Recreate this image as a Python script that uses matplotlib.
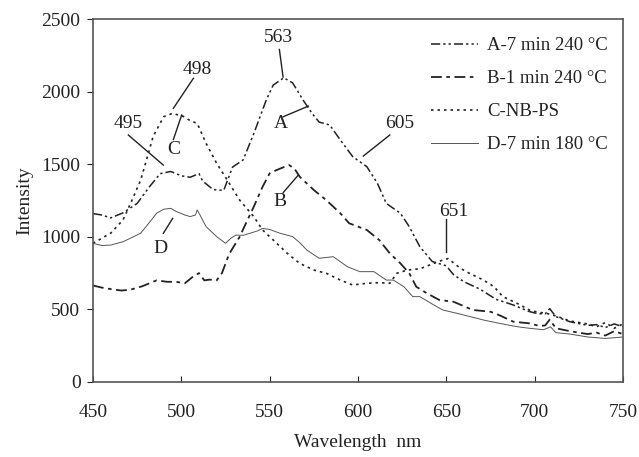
import numpy as np
import matplotlib
matplotlib.use("Agg")
import matplotlib.pyplot as plt

plt.rcParams['font.family'] = ['Liberation Serif', 'DejaVu Serif']

# curve A: 7 min 240 C
wl_a = [450, 455, 460, 467, 475, 482, 488, 494, 500, 505, 510, 512, 518, 524, 529,
        535, 541, 548, 552, 558, 563, 569, 574, 578, 584, 590, 597, 605, 611, 616,
        624, 629, 635, 642, 650, 654, 660, 669, 678, 688, 697, 702, 706, 708.5, 712,
        720, 730, 735, 740, 745, 750]
int_a = [1160, 1150, 1130, 1165, 1230, 1345, 1435, 1450, 1420, 1410, 1435, 1385, 1325, 1320, 1480,
         1530, 1710, 1940, 2045, 2095, 2060, 1940, 1850, 1790, 1770, 1667, 1552, 1483, 1368, 1230,
         1162, 1070, 932, 830, 800, 740, 690, 640, 570, 530, 485, 470, 470, 505, 450,
         415, 390, 395, 375, 400, 380]

# curve B: 1 min 240 C
wl_b = [450, 455, 460, 466, 471, 478, 486, 492, 497, 502, 506, 510, 513, 516, 520,
        523, 527, 533, 538, 541, 546, 550, 554, 558, 561, 564, 567, 575, 582, 590,
        595, 605, 612, 618, 624, 629, 633, 639, 646, 654, 665, 675, 680, 688, 697,
        703, 706, 708.5, 712, 720, 730, 735, 740, 745, 750]
int_b = [665, 650, 640, 630, 635, 660, 700, 690, 690, 680, 720, 750, 700, 705, 700,
         750, 880, 1000, 1130, 1207, 1345, 1437, 1460, 1480, 1494, 1470, 1414, 1322, 1253, 1162,
         1093, 1047, 978, 886, 817, 749, 656, 611, 565, 553, 496, 484, 460, 415, 404,
         385, 390, 430, 370, 350, 330, 340, 320, 350, 330]

# curve C: NB-PS
wl_c = [450, 455, 460, 467, 472, 477, 481, 484, 490, 495, 501, 505, 509, 514, 520,
        526, 533, 541, 546, 552, 560, 567, 575, 582, 590, 597, 605, 612, 618, 622,
        628, 635, 643, 648, 651, 658, 663, 671, 677, 682, 690, 697, 702, 706, 712,
        720, 730, 735, 740, 745, 750]
int_c = [955, 990, 1025, 1116, 1250, 1391, 1560, 1690, 1827, 1850, 1830, 1800, 1781, 1644, 1506,
         1391, 1253, 1139, 1047, 978, 886, 817, 771, 749, 702, 668, 680, 684, 680, 749,
         771, 780, 817, 840, 850, 783, 749, 702, 656, 588, 542, 496, 480, 475, 455,
         420, 400, 380, 410, 370, 400]

# curve D: 7 min 180 C
wl_d = [450, 455, 460, 467, 472, 477, 482, 486, 490, 494, 497, 502, 505, 508, 509,
        511, 514, 520, 525, 528, 531, 535, 539, 543, 546, 550, 556, 563, 567, 571,
        578, 586, 594, 601, 609, 616, 620, 626, 631, 635, 643, 648, 656, 662, 671,
        680, 690, 697, 705, 709, 712, 720, 730, 740, 750]
int_d = [955, 940, 943, 966, 995, 1025, 1100, 1162, 1190, 1196, 1175, 1150, 1139, 1150, 1185,
         1140, 1070, 1001, 955, 990, 1012, 1010, 1025, 1040, 1058, 1050, 1024, 1001, 960, 909,
         852, 863, 794, 760, 760, 702, 702, 656, 588, 588, 530, 496, 473, 455, 427,
         404, 381, 370, 360, 380, 340, 330, 310, 300, 310]

labels = ['A-7 min 240 °C', 'B-1 min 240 °C', 'C-NB-PS', 'D-7 min 180 °C']

# peak annotations: text, text position, line start, line end
notes = [
    ('563', (555, 2370), (555.5, 2290), (557.6, 2100)),
    ('498', (509, 2150), (506.8, 2091), (495.5, 1885)),
    ('C', (495.5, 1598), (500.2, 1839), (495.5, 1670)),
    ('495', (470, 1782), (470, 1701), (489.8, 1494)),
    ('A', (556.4, 1782), (557.7, 1827), (571.9, 1900)),
    ('605', (623.8, 1782), (618, 1701), (603, 1556)),
    ('B', (555.8, 1242), (557.7, 1305), (566.2, 1425)),
    ('D', (488, 921), (489.8, 1024), (495.1, 1127)),
    ('651', (654, 1173), (649.6, 1125), (649.6, 897)),
]

fig = plt.figure(figsize=(6.39, 4.57), dpi=100)
ax = fig.add_axes([93/639, 75/457, 530/639, 363/457])

ax.plot(wl_a, int_a, color='#222222', lw=1.1, linestyle=(0, (6, 2, 1.5, 2, 1.5, 2)), label=labels[0])
ax.plot(wl_b, int_b, color='#222222', lw=1.3, linestyle=(0, (6, 2.5, 2, 2.5)), label=labels[1])
ax.plot(wl_c, int_c, color='#222222', lw=1.2, linestyle=(0, (1.5, 2.4)), label=labels[2])
ax.plot(wl_d, int_d, color='#555555', lw=0.7, linestyle='-', label=labels[3])

for txt, tpos, p0, p1 in notes:
    ax.text(tpos[0], tpos[1], txt, fontsize=14, ha='center', va='center', color='#222222')
    ax.plot([p0[0], p1[0]], [p0[1], p1[1]], color='#222222', lw=1.0)

ax.set_xlim(450, 750)
ax.set_ylim(0, 2500)
ax.set_xticks(np.arange(450, 751, 50))
ax.set_yticks(np.arange(0, 2501, 500))
ax.tick_params(axis='x', direction='in', length=4, pad=16, labelsize=14, colors='#222222')
ax.tick_params(axis='y', direction='out', length=4, pad=5, labelsize=14, colors='#222222')
for s in ax.spines.values():
    s.set_color('#555555')
    s.set_linewidth(1.2)

ax.set_xlabel('Wavelength  nm', fontsize=14, labelpad=9, color='#222222')
ax.set_ylabel('Intensity', fontsize=14, labelpad=6, color='#222222')

leg = ax.legend(loc='upper right', bbox_to_anchor=(608/639, 1 - 37/457),
                bbox_transform=fig.transFigure, frameon=False, fontsize=13.5,
                handlelength=2.5, handletextpad=0.5, labelspacing=0.85,
                borderpad=0, borderaxespad=0)
for t in leg.get_texts():
    t.set_color('#222222')

fig.savefig('out.png', dpi=100)
